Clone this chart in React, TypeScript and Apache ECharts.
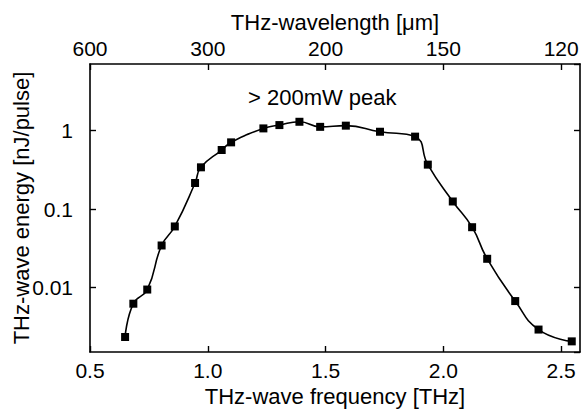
import React, { useEffect, useRef } from "react";
import * as echarts from "echarts";

// THz-wave frequency [THz]
const frequency = [0.649, 0.684, 0.743, 0.804, 0.86, 0.946, 0.971, 1.059, 1.099, 1.236, 1.304, 1.389, 1.477, 1.586, 1.731, 1.88, 1.934, 2.04, 2.122, 2.186, 2.305, 2.404, 2.545];
// THz-wave energy [nJ/pulse]
const energy = [0.00233, 0.0062, 0.0094, 0.0343, 0.06, 0.215, 0.341, 0.567, 0.71, 1.07, 1.18, 1.3, 1.12, 1.16, 0.97, 0.84, 0.369, 0.125, 0.0587, 0.0232, 0.0067, 0.0029, 0.00205];
// bottom ticks (THz) and top tick labels (wavelength, µm = 300 / THz)
const freqTicks = [0.5, 1.0, 1.5, 2.0, 2.5];
const wavelengthLabels = ["600", "300", "200", "150", "120"];
const energyTickLabels = ["0.01", "0.1", "1"];

const FONT = "'Liberation Sans', Arial, Helvetica, sans-serif";

export default function App() {
  const ref = useRef<HTMLDivElement>(null);
  useEffect(() => {
    if (!ref.current) return;
    const chart = echarts.init(ref.current, undefined, { renderer: "svg" });
    const axisLine = { show: true, onZero: false, lineStyle: { color: "#000", width: 1.6 } };
    const axisTick = { show: true, inside: true, length: 6, lineStyle: { color: "#000", width: 1.4 } };
    const xCommon = {
      type: "value",
      min: 0.5,
      max: 2.58,
      interval: 0.5,
      axisLine,
      axisTick,
      splitLine: { show: false },
      nameLocation: "middle",
      nameTextStyle: { fontSize: 22, color: "#000", fontFamily: FONT },
    };
    const yCommon = {
      type: "log",
      logBase: 10,
      min: 0.0015,
      max: 7.1,
      axisLine,
      axisTick,
      splitLine: { show: false },
      minorTick: { show: false },
    };
    const labelFor = (v: number) => freqTicks.findIndex((t) => Math.abs(t - v) < 1e-6);
    chart.setOption({
      animation: false,
      backgroundColor: "#fff",
      textStyle: { fontFamily: FONT },
      grid: { left: 90, right: 4, top: 64, bottom: 61, containLabel: false, outerBoundsMode: "none" },
      xAxis: [
        {
          ...xCommon,
          position: "bottom",
          name: "THz-wave frequency [THz]",
          nameGap: 33,
          axisLabel: {
            fontSize: 21,
            color: "#000",
            fontFamily: FONT,
            margin: 8,
            showMaxLabel: false,
            formatter: (v: number) => {
              const i = labelFor(v);
              return i >= 0 ? freqTicks[i].toFixed(1) : "";
            },
          },
        },
        {
          ...xCommon,
          position: "top",
          name: "THz-wavelength [μm]",
          nameGap: 29,
          axisLabel: {
            fontSize: 21,
            color: "#000",
            fontFamily: FONT,
            margin: 5,
            showMaxLabel: false,
            formatter: (v: number) => {
              const i = labelFor(v);
              return i >= 0 ? wavelengthLabels[i] : "";
            },
          },
        },
      ],
      yAxis: [
        {
          ...yCommon,
          position: "left",
          axisLabel: {
            fontSize: 21,
            color: "#000",
            fontFamily: FONT,
            margin: 17,
            showMinLabel: false,
            showMaxLabel: false,
            formatter: (v: number) => {
              const s = String(Number(v.toPrecision(3)));
              return energyTickLabels.includes(s) ? s : "";
            },
          },
        },
        {
          ...yCommon,
          position: "right",
          axisLabel: { show: false },
        },
      ],
      graphic: [
        {
          type: "text",
          left: 248,
          top: 86,
          style: { text: "> 200mW peak", fontSize: 22, fill: "#000", fontFamily: FONT },
        },
        {
          type: "text",
          x: 21,
          y: 208,
          rotation: Math.PI / 2,
          style: {
            text: "THz-wave energy [nJ/pulse]",
            fontSize: 22,
            fill: "#000",
            fontFamily: FONT,
            align: "center",
            verticalAlign: "middle",
          },
        },
      ],
      series: [
        {
          type: "line",
          xAxisIndex: 0,
          yAxisIndex: 0,
          data: frequency.map((f, i) => [f, energy[i]]),
          smooth: 0.5,
          symbol: "rect",
          symbolSize: 8,
          showSymbol: true,
          itemStyle: { color: "#000" },
          lineStyle: { color: "#000", width: 1.6 },
        },
      ],
    });
    return () => chart.dispose();
  }, []);
  return (
    <div
      ref={ref}
      style={{ position: "fixed", left: 0, top: 0, width: 584, height: 413, background: "#fff" }}
    />
  );
}
